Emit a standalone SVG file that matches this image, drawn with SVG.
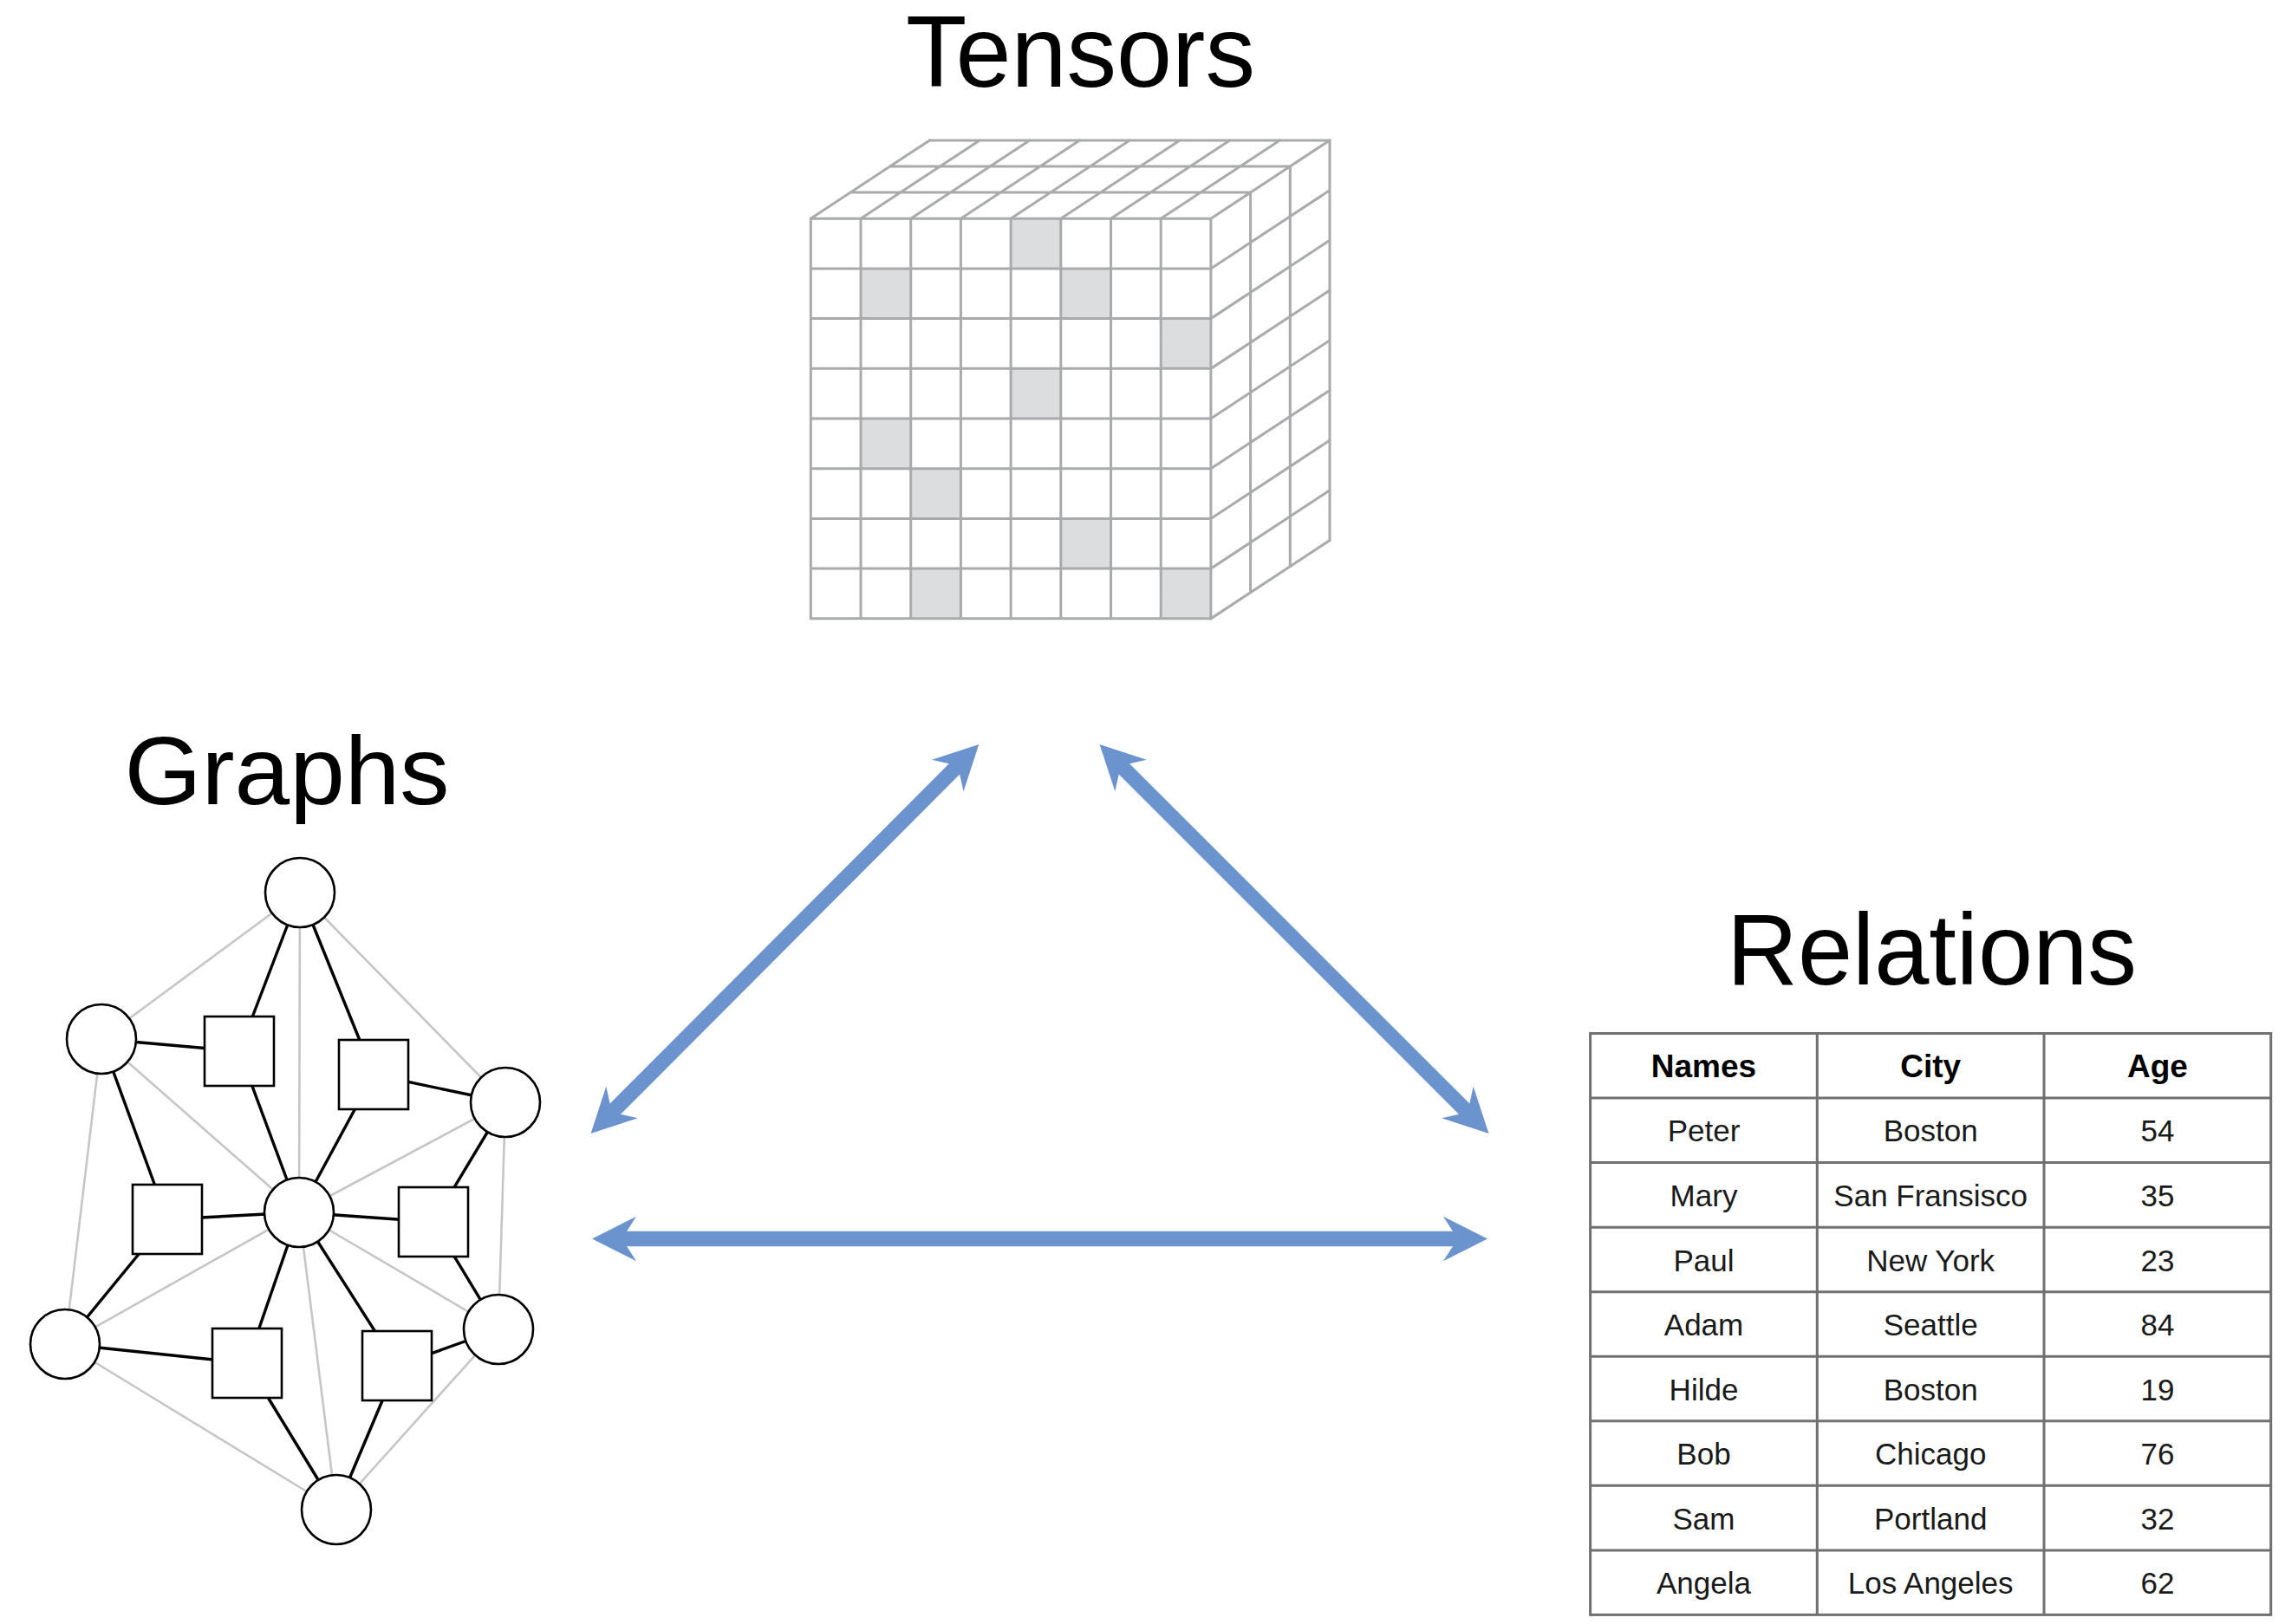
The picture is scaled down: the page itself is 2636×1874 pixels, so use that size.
<svg xmlns="http://www.w3.org/2000/svg" width="2636" height="1874" viewBox="0 0 2636 1874">
<style>
.title{font-family:"Liberation Sans",Arial,sans-serif;font-size:116px;fill:#000;text-anchor:middle}
.grid{stroke:#a9aaab;stroke-width:3;fill:none;stroke-linecap:square}
.shade{fill:#dcdddf}
.gedge{stroke:#c6c6c6;stroke-width:2.6;fill:none}
.bedge{stroke:#000;stroke-width:3.4;fill:none}
.gnode{fill:#fff;stroke:#000;stroke-width:2.6}
.tbl{stroke:#707070;stroke-width:3;fill:none}
.th{font-family:"Liberation Sans",Arial,sans-serif;font-size:37px;font-weight:bold;fill:#000;text-anchor:middle}
.td{font-family:"Liberation Sans",Arial,sans-serif;font-size:35px;fill:#1a1a1a;text-anchor:middle}
.arrow{stroke:#6b94ce;stroke-width:17.5;fill:none}
</style>
<defs>
<marker id="head" viewBox="-20 -30 60 60" refX="0" refY="0" markerWidth="60" markerHeight="60" markerUnits="userSpaceOnUse" orient="auto-start-reverse">
<path d="M34.5,0 L-16.5,-25.8 L0,0 L-16.5,25.8 Z" fill="#6b94ce"/>
</marker>
</defs>
<rect width="2636" height="1874" fill="#fff"/>

<g id="node-tensors">
<text class="title" x="1246.5" y="100" textLength="403" lengthAdjust="spacingAndGlyphs">Tensors</text>
<polygon points="935.3,252.2 1072.4,161.9 1534,161.9 1534,623.5 1396.9,713.8 935.3,713.8" fill="#fff"/>
<g class="shade">
<rect x="1166.1" y="252.2" width="57.7" height="57.7"/>
<rect x="993.0" y="309.9" width="57.7" height="57.7"/>
<rect x="1223.8" y="309.9" width="57.7" height="57.7"/>
<rect x="1339.2" y="367.6" width="57.7" height="57.7"/>
<rect x="1166.1" y="425.3" width="57.7" height="57.7"/>
<rect x="993.0" y="483.0" width="57.7" height="57.7"/>
<rect x="1050.7" y="540.7" width="57.7" height="57.7"/>
<rect x="1223.8" y="598.4" width="57.7" height="57.7"/>
<rect x="1050.7" y="656.1" width="57.7" height="57.7"/>
<rect x="1339.2" y="656.1" width="57.7" height="57.7"/>
</g>
<path class="grid" d="M935.3,252.2V713.8 M993.0,252.2V713.8 M1050.7,252.2V713.8 M1108.4,252.2V713.8 M1166.1,252.2V713.8 M1223.8,252.2V713.8 M1281.5,252.2V713.8 M1339.2,252.2V713.8 M1396.9,252.2V713.8
M935.3,252.2H1396.9 M935.3,309.9H1396.9 M935.3,367.6H1396.9 M935.3,425.3H1396.9 M935.3,483.0H1396.9 M935.3,540.7H1396.9 M935.3,598.4H1396.9 M935.3,656.1H1396.9 M935.3,713.8H1396.9
M935.3,252.2L1072.4,161.9 M993.0,252.2L1130.1,161.9 M1050.7,252.2L1187.8,161.9 M1108.4,252.2L1245.5,161.9 M1166.1,252.2L1303.2,161.9 M1223.8,252.2L1360.9,161.9 M1281.5,252.2L1418.6,161.9 M1339.2,252.2L1476.3,161.9 M1396.9,252.2L1534.0,161.9
M981.0,222.1H1442.6 M1026.7,192.0H1488.3 M1072.4,161.9H1534.0
M1396.9,309.9L1534.0,219.6 M1396.9,367.6L1534.0,277.3 M1396.9,425.3L1534.0,335.0 M1396.9,483.0L1534.0,392.7 M1396.9,540.7L1534.0,450.4 M1396.9,598.4L1534.0,508.1 M1396.9,656.1L1534.0,565.8 M1396.9,713.8L1534.0,623.5
M1442.6,222.1V683.7 M1488.3,192.0V653.6 M1534.0,161.9V623.5"/>
</g>

<g id="node-graphs">
<text class="title" x="331" y="928" font-size="112" textLength="375" lengthAdjust="spacingAndGlyphs" style="font-size:112px">Graphs</text>
<g class="gedge">
<line x1="346" y1="1030" x2="117" y2="1199"/>
<line x1="346" y1="1030" x2="583" y2="1272"/>
<line x1="346" y1="1030" x2="345" y2="1399"/>
<line x1="117" y1="1199" x2="345" y2="1399"/>
<line x1="117" y1="1199" x2="75" y2="1551"/>
<line x1="583" y1="1272" x2="345" y2="1399"/>
<line x1="583" y1="1272" x2="575" y2="1534"/>
<line x1="345" y1="1399" x2="75" y2="1551"/>
<line x1="345" y1="1399" x2="575" y2="1534"/>
<line x1="345" y1="1399" x2="388" y2="1742"/>
<line x1="75" y1="1551" x2="388" y2="1742"/>
<line x1="575" y1="1534" x2="388" y2="1742"/>
</g>
<g class="bedge">
<line x1="346" y1="1030" x2="276" y2="1213"/>
<line x1="346" y1="1030" x2="431" y2="1240"/>
<line x1="117" y1="1199" x2="276" y2="1213"/>
<line x1="276" y1="1213" x2="345" y2="1399"/>
<line x1="431" y1="1240" x2="345" y2="1399"/>
<line x1="431" y1="1240" x2="583" y2="1272"/>
<line x1="117" y1="1199" x2="193" y2="1407"/>
<line x1="193" y1="1407" x2="345" y2="1399"/>
<line x1="193" y1="1407" x2="75" y2="1551"/>
<line x1="345" y1="1399" x2="500" y2="1410"/>
<line x1="583" y1="1272" x2="500" y2="1410"/>
<line x1="500" y1="1410" x2="575" y2="1534"/>
<line x1="345" y1="1399" x2="285" y2="1573"/>
<line x1="345" y1="1399" x2="458" y2="1576"/>
<line x1="75" y1="1551" x2="285" y2="1573"/>
<line x1="285" y1="1573" x2="388" y2="1742"/>
<line x1="458" y1="1576" x2="388" y2="1742"/>
<line x1="458" y1="1576" x2="575" y2="1534"/>
</g>
<g class="gnode">
<circle cx="346" cy="1030" r="40"/>
<circle cx="117" cy="1199" r="40"/>
<circle cx="583" cy="1272" r="40"/>
<circle cx="345" cy="1399" r="40"/>
<circle cx="75" cy="1551" r="40"/>
<circle cx="575" cy="1534" r="40"/>
<circle cx="388" cy="1742" r="40"/>
<rect x="236" y="1173" width="80" height="80"/>
<rect x="391" y="1200" width="80" height="80"/>
<rect x="153" y="1367" width="80" height="80"/>
<rect x="460" y="1370" width="80" height="80"/>
<rect x="245" y="1533" width="80" height="80"/>
<rect x="418" y="1536" width="80" height="80"/>
</g>
</g>

<g id="node-relations">
<text class="title" x="2228.5" y="1136" textLength="473" lengthAdjust="spacingAndGlyphs">Relations</text>
<g class="tbl">
<rect x="1834.6" y="1192.5" width="785.1" height="670.9"/>
<path d="M2096.3,1192.5V1863.4 M2358,1192.5V1863.4 M1834.6,1267.05H2619.7 M1834.6,1341.6H2619.7 M1834.6,1416.15H2619.7 M1834.6,1490.7H2619.7 M1834.6,1565.25H2619.7 M1834.6,1639.8H2619.7 M1834.6,1714.35H2619.7 M1834.6,1788.9H2619.7"/>
</g>
<text class="th" x="1965.5" y="1243">Names</text>
<text class="th" x="2227.2" y="1243">City</text>
<text class="th" x="2488.9" y="1243">Age</text>
<text class="td" x="1965.5" y="1317.4">Peter</text>
<text class="td" x="2227.2" y="1317.4">Boston</text>
<text class="td" x="2488.9" y="1317.4">54</text>
<text class="td" x="1965.5" y="1391.9">Mary</text>
<text class="td" x="2227.2" y="1391.9">San Fransisco</text>
<text class="td" x="2488.9" y="1391.9">35</text>
<text class="td" x="1965.5" y="1466.5">Paul</text>
<text class="td" x="2227.2" y="1466.5">New York</text>
<text class="td" x="2488.9" y="1466.5">23</text>
<text class="td" x="1965.5" y="1541">Adam</text>
<text class="td" x="2227.2" y="1541">Seattle</text>
<text class="td" x="2488.9" y="1541">84</text>
<text class="td" x="1965.5" y="1615.6">Hilde</text>
<text class="td" x="2227.2" y="1615.6">Boston</text>
<text class="td" x="2488.9" y="1615.6">19</text>
<text class="td" x="1965.5" y="1690.1">Bob</text>
<text class="td" x="2227.2" y="1690.1">Chicago</text>
<text class="td" x="2488.9" y="1690.1">76</text>
<text class="td" x="1965.5" y="1764.7">Sam</text>
<text class="td" x="2227.2" y="1764.7">Portland</text>
<text class="td" x="2488.9" y="1764.7">32</text>
<text class="td" x="1965.5" y="1839.2">Angela</text>
<text class="td" x="2227.2" y="1839.2">Los Angeles</text>
<text class="td" x="2488.9" y="1839.2">62</text>
</g>

<g id="connectors">
<line class="arrow" x1="705.9" y1="1283.6" x2="1104.9" y2="883.4" marker-start="url(#head)" marker-end="url(#head)"/>
<line class="arrow" x1="1292.9" y1="883.4" x2="1693.1" y2="1283.6" marker-start="url(#head)" marker-end="url(#head)"/>
<line class="arrow" x1="717.5" y1="1429.5" x2="1681.5" y2="1429.5" marker-start="url(#head)" marker-end="url(#head)"/>
</g>
</svg>
